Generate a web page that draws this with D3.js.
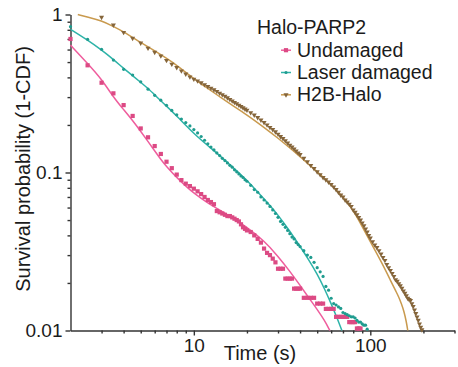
<!DOCTYPE html>
<html>
<head>
<meta charset="utf-8">
<script src="https://cdn.jsdelivr.net/npm/d3@7"></script>
<style>
  html, body { margin: 0; padding: 0; background: #fff; }
  svg { display: block; font-family: "Liberation Sans", Arial, sans-serif; }
</style>
</head>
<body>
<svg id="chart" width="458" height="367"></svg>
<script>
// Frame times (s) at which the survival probability is sampled
const times = [
  2, 2.5, 3, 3.5, 4, 4.5, 5, 5.5, 6, 6.5, 7, 7.5, 8, 8.5, 9, 9.5, 10, 10.5, 11, 11.5,
  12, 12.5, 13, 13.5, 14, 14.5, 15, 15.5, 16, 16.5, 17, 17.5, 18, 18.5, 19, 19.5, 20,
  21, 22, 23, 24, 25, 26, 27, 28, 29, 30, 31, 32, 33, 34, 35, 36, 37, 38, 39, 40,
  42, 44, 46, 48, 50, 52, 54, 56, 58, 60, 62, 64, 66, 68, 70, 72, 74, 76, 78, 80,
  82, 84, 86, 88, 90, 92, 94, 96, 98, 100,
  103, 106, 109, 112, 115, 118, 121, 124, 127, 130, 133, 136, 139, 142, 145, 148,
  151, 154, 157, 160, 163, 166, 169, 172, 175, 178, 181, 184, 187, 190, 193, 196
];

// Survival probability (1-CDF), one value per entry of `times`
const undamaged = [
  0.70, 0.477, 0.37, 0.317, 0.267, 0.228, 0.19, 0.167, 0.147, 0.131, 0.117, 0.1065, 0.097, 0.0895, 0.085, 0.082, 0.079, 0.076, 0.073, 0.070,
  0.067, 0.065, 0.063, 0.057, 0.056, 0.055, 0.054, 0.053, 0.053, 0.052, 0.051, 0.050, 0.049, 0.047, 0.045, 0.044, 0.043,
  0.042, 0.040, 0.038, 0.036, 0.033, 0.031, 0.030, 0.0285, 0.027, 0.0246, 0.0246, 0.0246, 0.0213, 0.0213, 0.0213, 0.0213, 0.0184, 0.0184, 0.0184, 0.0184,
  0.0161, 0.0161, 0.0161, 0.0161, 0.0148, 0.0148, 0.0148, 0.0137, 0.0137, 0.0137, 0.0137, 0.0122, 0.0122, 0.0122, 0.0122, 0.0122, 0.0122, 0.0113, 0.0113, 0.0113,
  0.0113, 0.0103, 0.0103, 0.0103
];

const laserDamaged = [
  0.837, 0.696, 0.602, 0.515, 0.45, 0.414, 0.375, 0.337, 0.308, 0.287, 0.266, 0.247, 0.232, 0.218, 0.207, 0.197, 0.187, 0.178, 0.169, 0.160,
  0.152, 0.145, 0.139, 0.133, 0.128, 0.123, 0.119, 0.115, 0.111, 0.108, 0.104, 0.101, 0.098, 0.095, 0.093, 0.090, 0.088,
  0.083, 0.078, 0.075, 0.070, 0.067, 0.064, 0.061, 0.058, 0.055, 0.052, 0.049, 0.047, 0.045, 0.043, 0.041, 0.039, 0.038, 0.036, 0.035, 0.034,
  0.032, 0.030, 0.029, 0.027, 0.025, 0.0235, 0.022, 0.019, 0.018, 0.016, 0.0148, 0.0145, 0.0141, 0.0138, 0.013, 0.0128, 0.0126, 0.0124, 0.0122, 0.0122,
  0.012, 0.0116, 0.0113, 0.0113, 0.011, 0.0108, 0.0108, 0.0102
];

const h2bHalo = [
  null, null, 0.96, 0.858, 0.771, 0.707, 0.66, 0.613, 0.577, 0.547, 0.512, 0.485, 0.462, 0.44, 0.42, 0.403, 0.39, 0.38, 0.37, 0.36,
  0.35, 0.342, 0.334, 0.326, 0.318, 0.311, 0.304, 0.297, 0.29, 0.284, 0.278, 0.273, 0.267, 0.262, 0.257, 0.252, 0.248,
  0.239, 0.231, 0.223, 0.215, 0.207, 0.200, 0.193, 0.187, 0.181, 0.175, 0.169, 0.164, 0.159, 0.154, 0.149, 0.145, 0.141, 0.137, 0.133, 0.130,
  0.123, 0.117, 0.111, 0.106, 0.101, 0.097, 0.093, 0.090, 0.087, 0.084, 0.081, 0.078, 0.075, 0.072, 0.070, 0.067, 0.065, 0.063, 0.061, 0.058,
  0.056, 0.054, 0.052, 0.050, 0.048, 0.046, 0.044, 0.042, 0.040, 0.0385,
  0.0365, 0.0348, 0.0335, 0.032, 0.0305, 0.029, 0.0278, 0.0262, 0.025, 0.024, 0.023, 0.022, 0.021, 0.0205, 0.0198, 0.0192,
  0.0185, 0.0178, 0.0172, 0.0166, 0.016, 0.0157, 0.0155, 0.0148, 0.0142, 0.0135, 0.0128, 0.0122, 0.0116, 0.011, 0.0105, 0.0101
];

// Fitted survival curves: [time (s), probability]
const undamagedFit = [
  [2, 0.64], [2.5, 0.49], [3, 0.39], [3.5, 0.30], [4, 0.25], [4.5, 0.213], [5, 0.182], [5.5, 0.157],
  [6, 0.137], [6.5, 0.121], [7, 0.109], [8, 0.093], [9, 0.082], [10, 0.074], [12, 0.064], [14, 0.058],
  [16, 0.053], [20, 0.045], [25, 0.037], [30, 0.0295], [35, 0.0237], [40, 0.0193], [45, 0.016],
  [50, 0.0136], [55, 0.0116], [59, 0.01]
];

const laserDamagedFit = [
  [2, 0.806], [2.5, 0.689], [3, 0.596], [3.5, 0.52], [4, 0.456], [4.5, 0.41], [5, 0.372], [5.5, 0.34],
  [6, 0.31], [7, 0.263], [8, 0.228], [10, 0.176], [12, 0.148], [14, 0.128], [16, 0.112], [18, 0.0995],
  [20, 0.089], [22, 0.0795], [25, 0.068], [30, 0.054], [35, 0.0425], [40, 0.034], [45, 0.0278],
  [50, 0.0228], [55, 0.0184], [60, 0.0148], [65, 0.0119], [69, 0.01]
];

const h2bHaloFit = [
  [2.2, 1.0], [2.5, 0.965], [3, 0.913], [3.5, 0.84], [4, 0.778], [5, 0.665], [6, 0.59], [7, 0.528],
  [8, 0.478], [10, 0.392], [12, 0.34], [14, 0.302], [16, 0.272], [20, 0.232], [25, 0.193], [30, 0.165],
  [35, 0.143], [40, 0.126], [50, 0.101], [60, 0.084], [70, 0.07], [80, 0.058], [90, 0.0455],
  [100, 0.0365], [110, 0.030], [120, 0.025], [130, 0.0208], [140, 0.0176], [145, 0.0163],
  [150, 0.0148], [155, 0.0133], [160, 0.0114], [163, 0.01]
];

// Axis ticks
const xMajorTicks = [10, 100];
const xMinorTicks = [3, 4, 5, 6, 7, 8, 9, 20, 30, 40, 50, 60, 70, 80, 90, 200, 300];
const yMajorTicks = [0.01, 0.1, 1];
const yMajorLabels = ["0.01", "0.1", "1"];
const yMinorTicks = [0.02, 0.03, 0.04, 0.05, 0.06, 0.07, 0.08, 0.09, 0.2, 0.3, 0.4, 0.5, 0.6, 0.7, 0.8, 0.9];

const legendTitle = "Halo-PARP2";
const seriesNames = ["Undamaged", "Laser damaged", "H2B-Halo"];

// ---- drawing ----
const svg = d3.select("#chart");
const x = d3.scaleLog().domain([2, 300]).range([70.5, 454.5]);
const y = d3.scaleLog().domain([0.01, 1]).range([330.5, 14.5]);

const textColor = "#1b1b1b";
const axisColor = "#333";

const series = [
  { name: seriesNames[0], values: undamaged, fit: undamagedFit, line: "#ef5d9d", mark: "#dc4a84", shape: "square" },
  { name: seriesNames[1], values: laserDamaged, fit: laserDamagedFit, line: "#2db3a8", mark: "#1f9c8f", shape: "circle" },
  { name: seriesNames[2], values: h2bHalo, fit: h2bHaloFit, line: "#c99a4e", mark: "#85653a", shape: "triangle" }
];

// Axes
const xAxisG = svg.append("g").attr("transform", "translate(0,330.5)");
xAxisG.call(d3.axisBottom(x).tickValues(xMajorTicks).tickFormat(d3.format("d")).tickSize(5).tickSizeOuter(0));
const xMinorG = svg.append("g").attr("transform", "translate(0,330.5)");
xMinorG.call(d3.axisBottom(x).tickValues(xMinorTicks).tickFormat("").tickSize(3).tickSizeOuter(0));
xMinorG.select(".domain").remove();

const yAxisG = svg.append("g").attr("transform", "translate(70.5,0)");
yAxisG.call(d3.axisLeft(y).tickValues(yMajorTicks).tickFormat((d, i) => yMajorLabels[i]).tickSize(5).tickSizeOuter(0));
const yMinorG = svg.append("g").attr("transform", "translate(70.5,0)");
yMinorG.call(d3.axisLeft(y).tickValues(yMinorTicks).tickFormat("").tickSize(3).tickSizeOuter(0));
yMinorG.select(".domain").remove();

svg.selectAll(".domain, .tick line").attr("stroke", axisColor).attr("stroke-width", 1.4);
svg.selectAll(".tick text")
  .attr("fill", textColor)
  .style("font-size", "19px")
  .style("font-family", "'Liberation Sans', Arial, sans-serif");

// Axis titles
svg.append("text")
  .attr("x", 260).attr("y", 360)
  .attr("text-anchor", "middle")
  .attr("fill", textColor)
  .style("font-size", "20px")
  .text("Time (s)");

svg.append("text")
  .attr("transform", "translate(30,169) rotate(-90)")
  .attr("text-anchor", "middle")
  .attr("fill", textColor)
  .style("font-size", "20px")
  .text("Survival probability (1-CDF)");

// Plot area
const plot = svg.append("g");
const fitLine = d3.line()
  .x(d => x(d[0]))
  .y(d => y(d[1]))
  .curve(d3.curveBasis);

series.forEach(s => {
  plot.append("path")
    .datum(s.fit)
    .attr("fill", "none")
    .attr("stroke", s.line)
    .attr("stroke-width", 1.5)
    .attr("d", fitLine);
});

function drawMarker(sel, shape, color) {
  if (shape === "square") {
    sel.append("rect").attr("x", -2.1).attr("y", -2.1).attr("width", 4.2).attr("height", 4.2).attr("fill", color);
  } else if (shape === "circle") {
    sel.append("circle").attr("r", 1.6).attr("fill", color);
  } else {
    sel.append("path")
      .attr("d", d3.symbol().type(d3.symbolTriangle).size(11)())
      .attr("transform", "rotate(180)")
      .attr("fill", color);
  }
}

series.forEach(s => {
  const pts = s.values
    .map((v, i) => ({ t: times[i], v }))
    .filter(d => d.v != null);
  const g = plot.append("g");
  pts.forEach(d => {
    const m = g.append("g").attr("transform", `translate(${x(d.t)},${y(d.v)})`);
    drawMarker(m, s.shape, s.mark);
  });
});

// Legend
const legend = svg.append("g");
legend.append("text")
  .attr("x", 257).attr("y", 34)
  .attr("fill", textColor)
  .style("font-size", "19.5px")
  .text(legendTitle);

series.forEach((s, i) => {
  const base = 56.7 + i * 22.3;
  const cy = base - 6.5;
  legend.append("line")
    .attr("x1", 281).attr("x2", 291)
    .attr("y1", cy).attr("y2", cy)
    .attr("stroke", s.line).attr("stroke-width", 1.5);
  const m = legend.append("g").attr("transform", `translate(286,${cy})`);
  drawMarker(m, s.shape, s.mark);
  legend.append("text")
    .attr("x", 297).attr("y", base)
    .attr("fill", textColor)
    .style("font-size", "19.5px")
    .text(s.name);
});
</script>
</body>
</html>
